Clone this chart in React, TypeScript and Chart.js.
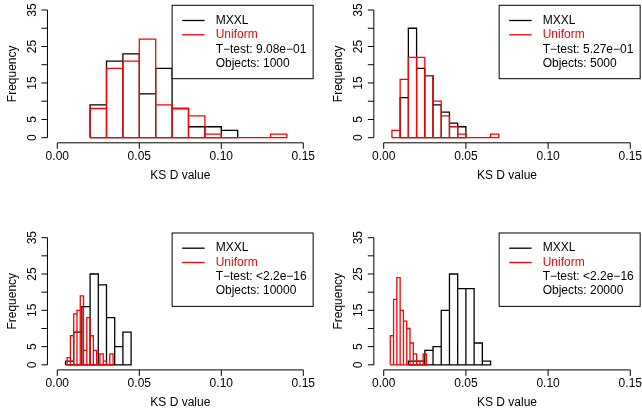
import React, { useEffect, useRef } from 'react';
import { Chart, registerables } from 'chart.js';

Chart.register(...registerables);

// ---- axis ticks / labels ----
const xTicks = [0, 0.05, 0.1, 0.15];
const xTickLabels = ['0.00', '0.05', '0.10', '0.15'];
const yTicks = [0, 5, 10, 15, 20, 25, 30, 35];
const yTickLabels = ['0', '5', '', '15', '', '25', '', '35'];
const xTitle = 'KS D value';
const yTitle = 'Frequency';
const seriesNames = ['MXXL', 'Uniform'];
const tTestLabels = ['T\u2212test: 9.08e\u221201', 'T\u2212test: 5.27e\u221201', 'T\u2212test: <2.2e\u221216', 'T\u2212test: <2.2e\u221216'];
const objectCounts = [1000, 5000, 10000, 20000];

// ---- histogram data: bin edges and counts ----
const p1MxxlEdges = [0.02, 0.03, 0.04, 0.05, 0.06, 0.07, 0.08, 0.09, 0.10, 0.11];
const p1MxxlCounts = [9, 21, 23, 12, 19, 8, 3, 3, 2];
const p1UniformEdges = [0.02, 0.03, 0.04, 0.05, 0.06, 0.07, 0.08, 0.09, 0.10, 0.11, 0.12, 0.13, 0.14];
const p1UniformCounts = [8, 19, 21, 27, 9, 8, 6, 1, 0, 0, 0, 1];

const p2MxxlEdges = [0.010, 0.015, 0.020, 0.025, 0.030, 0.035, 0.040, 0.045, 0.050];
const p2MxxlCounts = [11, 30, 19, 17, 9, 7, 4, 3];
const p2UniformEdges = [0.005, 0.010, 0.015, 0.020, 0.025, 0.030, 0.035, 0.040, 0.045, 0.050, 0.055, 0.060, 0.065, 0.070];
const p2UniformCounts = [2, 16, 22, 22, 17, 10, 6, 3, 1, 0, 0, 0, 1];

const p3MxxlEdges = [0.005, 0.010, 0.015, 0.020, 0.025, 0.030, 0.035, 0.040, 0.045];
const p3MxxlCounts = [1, 9, 16, 25, 22, 13, 5, 9];
const p3UniformEdges = [0.006, 0.008, 0.010, 0.012, 0.014, 0.016, 0.018, 0.020, 0.022, 0.024, 0.026, 0.028, 0.030, 0.032, 0.034];
const p3UniformCounts = [2, 8, 14, 15, 19, 4, 13, 8, 4, 3, 3, 1, 0, 3];

const p4MxxlEdges = [0.015, 0.020, 0.025, 0.030, 0.035, 0.040, 0.045, 0.050, 0.055, 0.060, 0.065];
const p4MxxlCounts = [1, 1, 4, 5, 15, 25, 21, 21, 6, 1];
const p4UniformEdges = [0.004, 0.006, 0.008, 0.010, 0.012, 0.014, 0.016, 0.018, 0.020, 0.022, 0.024, 0.026];
const p4UniformCounts = [8, 18, 24, 15, 12, 10, 6, 3, 1, 1, 3];

// ---- layout (plot regions in page pixels) ----
const W = 642;
const H = 413;
const FONT = "12px 'Liberation Sans', Arial, Helvetica, sans-serif";
const MXXL_COLOR = '#000000';
const UNIFORM_COLOR = '#FF0000';

const panels = [
  { mE: p1MxxlEdges, mC: p1MxxlCounts, uE: p1UniformEdges, uC: p1UniformCounts, t: tTestLabels[0], n: objectCounts[0], area: { left: 47.46, right: 313.14, top: 4.89, bottom: 142.81 } },
  { mE: p2MxxlEdges, mC: p2MxxlCounts, uE: p2UniformEdges, uC: p2UniformCounts, t: tTestLabels[1], n: objectCounts[1], area: { left: 373.84, right: 640.16, top: 4.89, bottom: 142.81 } },
  { mE: p3MxxlEdges, mC: p3MxxlCounts, uE: p3UniformEdges, uC: p3UniformCounts, t: tTestLabels[2], n: objectCounts[2], area: { left: 47.46, right: 313.14, top: 232.58, bottom: 369.9 } },
  { mE: p4MxxlEdges, mC: p4MxxlCounts, uE: p4UniformEdges, uC: p4UniformCounts, t: tTestLabels[3], n: objectCounts[3], area: { left: 373.84, right: 640.16, top: 232.58, bottom: 369.9 } },
];

function outline(edges: number[], counts: number[]) {
  const pts: { x: number; y: number }[] = [{ x: edges[0], y: 0 }];
  counts.forEach((c, i) => {
    pts.push({ x: edges[i], y: c }, { x: edges[i + 1], y: c }, { x: edges[i + 1], y: 0 });
  });
  pts.push({ x: edges[0], y: 0 });
  return pts;
}

function makePlugin(legendLines: string[]) {
  return {
    id: 'rStyle',
    afterDraw(chart: any) {
      const ctx: CanvasRenderingContext2D = chart.ctx;
      const xs = chart.scales.x;
      const ys = chart.scales.y;
      const ca = chart.chartArea;
      ctx.save();
      ctx.strokeStyle = '#000';
      ctx.fillStyle = '#000';
      ctx.lineWidth = 1;
      ctx.font = FONT;

      // x axis
      const ax = ca.bottom;
      ctx.beginPath();
      ctx.moveTo(xs.getPixelForValue(xTicks[0]), ax);
      ctx.lineTo(xs.getPixelForValue(xTicks[xTicks.length - 1]), ax);
      xTicks.forEach((v) => {
        const px = xs.getPixelForValue(v);
        ctx.moveTo(px, ax);
        ctx.lineTo(px, ax + 6);
      });
      ctx.stroke();
      ctx.textAlign = 'center';
      ctx.textBaseline = 'middle';
      xTicks.forEach((v, i) => {
        ctx.fillText(xTickLabels[i], xs.getPixelForValue(v), ax + 13.8);
      });
      ctx.fillText(xTitle, (ca.left + ca.right) / 2, ax + 32.6);

      // y axis
      const ay = ca.left;
      ctx.beginPath();
      ctx.moveTo(ay, ys.getPixelForValue(yTicks[0]));
      ctx.lineTo(ay, ys.getPixelForValue(yTicks[yTicks.length - 1]));
      yTicks.forEach((v) => {
        const py = ys.getPixelForValue(v);
        ctx.moveTo(ay, py);
        ctx.lineTo(ay - 6, py);
      });
      ctx.stroke();
      ctx.textAlign = 'center';
      ctx.textBaseline = 'alphabetic';
      yTicks.forEach((v, i) => {
        if (!yTickLabels[i]) return;
        ctx.save();
        ctx.translate(ay - 11.5, ys.getPixelForValue(v));
        ctx.rotate(-Math.PI / 2);
        ctx.fillText(yTickLabels[i], 0, 0);
        ctx.restore();
      });
      ctx.save();
      ctx.translate(ay - 31.8, (ca.top + ca.bottom) / 2);
      ctx.rotate(-Math.PI / 2);
      ctx.fillText(yTitle, 0, 0);
      ctx.restore();

      // legend (top right of plot region)
      const bw = 141;
      const bh = 73.4;
      const bx = ca.right - bw;
      const by = ca.top + 0.4;
      ctx.fillStyle = '#fff';
      ctx.fillRect(bx, by, bw, bh);
      ctx.strokeStyle = '#000';
      ctx.lineWidth = 1;
      ctx.strokeRect(bx, by, bw, bh);
      const rows = [15.2, 29.5, 43.9, 58.2];
      const colors = [MXXL_COLOR, UNIFORM_COLOR, '#000', '#000'];
      ctx.textAlign = 'left';
      ctx.textBaseline = 'middle';
      legendLines.forEach((txt, i) => {
        const yy = by + rows[i];
        if (i < 2) {
          ctx.strokeStyle = colors[i];
          ctx.lineWidth = 1.3;
          ctx.beginPath();
          ctx.moveTo(bx + 10, yy);
          ctx.lineTo(bx + 32.5, yy);
          ctx.stroke();
        }
        ctx.fillStyle = colors[i];
        ctx.fillText(txt, bx + 43.5, yy);
      });
      ctx.restore();
    },
  };
}

function Panel({ cfg }: { cfg: (typeof panels)[number] }) {
  const ref = useRef<HTMLCanvasElement>(null);
  useEffect(() => {
    const a = cfg.area;
    const legendLines = [seriesNames[0], seriesNames[1], cfg.t, 'Objects: ' + cfg.n];
    const chart = new Chart(ref.current as HTMLCanvasElement, {
      type: 'line',
      data: {
        datasets: [
          {
            label: seriesNames[1],
            data: outline(cfg.uE, cfg.uC),
            borderColor: UNIFORM_COLOR,
            borderWidth: 1.3,
            pointRadius: 0,
            fill: false,
            tension: 0,
            order: 1,
          },
          {
            label: seriesNames[0],
            data: outline(cfg.mE, cfg.mC),
            borderColor: MXXL_COLOR,
            borderWidth: 1.3,
            pointRadius: 0,
            fill: false,
            tension: 0,
            order: 2,
          },
        ],
      },
      options: {
        responsive: false,
        animation: false,
        devicePixelRatio: 1,
        layout: { padding: { left: a.left, right: W - a.right, top: a.top, bottom: H - a.bottom } },
        scales: {
          x: { type: 'linear', min: -0.006, max: 0.156, display: false },
          y: { type: 'linear', min: -1.4, max: 36.4, display: false },
        },
        plugins: { legend: { display: false }, tooltip: { enabled: false } },
      },
      plugins: [makePlugin(legendLines)],
    } as any);
    return () => chart.destroy();
  }, [cfg]);
  return (
    <canvas
      ref={ref}
      width={W}
      height={H}
      style={{ position: 'absolute', left: 0, top: 0, width: W, height: H }}
    />
  );
}

export default function App() {
  return (
    <div style={{ position: 'absolute', left: 0, top: 0, width: W, height: H, background: '#fff', overflow: 'hidden' }}>
      {panels.map((p, i) => (
        <Panel key={i} cfg={p} />
      ))}
    </div>
  );
}
